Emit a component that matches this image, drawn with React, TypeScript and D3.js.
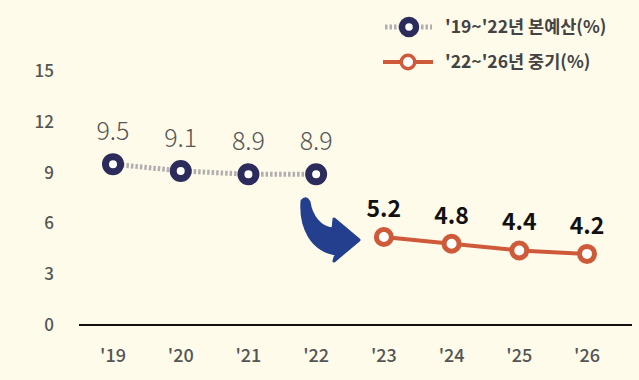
import React from "react";
import * as d3 from "d3";

const years = ["'19", "'20", "'21", "'22", "'23", "'24", "'25", "'26"];
const baseYears = ["'19", "'20", "'21", "'22"];
const baseValues = [9.5, 9.1, 8.9, 8.9];
const midYears = ["'23", "'24", "'25", "'26"];
const midValues = [5.2, 4.8, 4.4, 4.2];
const yTicks = [0, 3, 6, 9, 12, 15];
const legendLabels = ["'19~'22년 본예산(%)", "'22~'26년 중기(%)"];

const W = 639;
const H = 380;
const FONT = "'Noto Sans CJK KR', 'Noto Sans', sans-serif";
const NAVY = "#2b2b5c";
const ORANGE = "#cf5a3a";
const BG = "#fefbea";
const BLUE = "#233f8e";

export default function App() {
  const x = d3.scalePoint<string>().domain(years).range([113, 587]);
  const y = d3.scaleLinear().domain([0, 15]).range([325, 71]);

  const baseData = baseYears.map((d, i) => ({ k: d, v: baseValues[i] }));
  const midData = midYears.map((d, i) => ({ k: d, v: midValues[i] }));
  const line = d3
    .line<{ k: string; v: number }>()
    .x((d) => x(d.k)!)
    .y((d) => y(d.v));

  return (
    <svg
      width={W}
      height={H}
      style={{ position: "absolute", left: 0, top: 0, display: "block" }}
    >
      <rect x={0} y={0} width={W} height={H} fill={BG} />
      {/* y tick labels */}
      {yTicks.map((t) => (
        <text
          key={t}
          x={54}
          y={y(t)}
          dy="0.35em"
          textAnchor="end"
          fontFamily={FONT}
          fontSize={17}
          fontWeight={500}
          fill="#555"
        >
          {t}
        </text>
      ))}
      {/* baseline */}
      <line x1={79} x2={632} y1={y(0)} y2={y(0)} stroke="#111" strokeWidth={2} />
      {/* x labels */}
      {years.map((yr) => (
        <text
          key={yr}
          x={x(yr)!}
          y={356}
          dy="0.35em"
          textAnchor="middle"
          fontFamily={FONT}
          fontSize={18}
          fontWeight={500}
          fill="#555"
        >
          {yr}
        </text>
      ))}
      {/* base series */}
      <path
        d={line(baseData)!}
        fill="none"
        stroke="#b0aeae"
        strokeWidth={5}
        strokeDasharray="2.5,2"
      />
      {baseData.map((d) => (
        <g key={d.k}>
          <circle cx={x(d.k)!} cy={y(d.v)} r={7.5} fill="#fff" stroke={NAVY} strokeWidth={7} />
          <text
            x={x(d.k)!}
            y={y(d.v) - 24}
            textAnchor="middle"
            fontFamily={FONT}
            fontSize={25}
            fontWeight={300}
            fill="#555"
          >
            {d.v.toFixed(1)}
          </text>
        </g>
      ))}
      {/* mid series */}
      <path d={line(midData)!} fill="none" stroke={ORANGE} strokeWidth={4} />
      {midData.map((d) => (
        <g key={d.k}>
          <circle cx={x(d.k)!} cy={y(d.v)} r={7.5} fill="#fff" stroke={ORANGE} strokeWidth={5} />
          <text
            x={x(d.k)!}
            y={y(d.v) - 20}
            textAnchor="middle"
            fontFamily={FONT}
            fontSize={23}
            fontWeight={700}
            fill="#111"
          >
            {d.v.toFixed(1)}
          </text>
        </g>
      ))}
      {/* arrow */}
      <path
        d="M302,201 C300,228 312,250 336,254 L334,261 L359,240 L334,219 L333,229 C320,228 311,216 309,202 Q306,196 302,201 Z"
        fill={BLUE}
        stroke={BLUE}
        strokeWidth={3}
        strokeLinejoin="round"
      />
      {/* legend */}
      <line x1={385} x2={432} y1={27} y2={27} stroke="#b0aeae" strokeWidth={5} strokeDasharray="2.5,2" />
      <circle cx={409} cy={27} r={7} fill="#fff" stroke={NAVY} strokeWidth={6.5} />
      <text x={445} y={27} dy="0.35em" fontFamily={FONT} fontSize={17.5} fontWeight={700} fill="#444">
        {legendLabels[0]}
      </text>
      <line x1={383} x2={433} y1={62} y2={62} stroke={ORANGE} strokeWidth={4} />
      <circle cx={408} cy={62} r={6.75} fill="#fff" stroke={ORANGE} strokeWidth={3.5} />
      <text x={445} y={62} dy="0.35em" fontFamily={FONT} fontSize={17.5} fontWeight={700} fill="#444">
        {legendLabels[1]}
      </text>
    </svg>
  );
}
